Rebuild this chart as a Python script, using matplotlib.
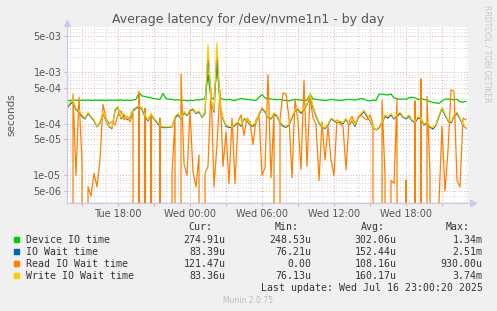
import numpy as np
import pandas as pd
import matplotlib
matplotlib.use("Agg")
import matplotlib.pyplot as plt
import matplotlib.dates as mdates
from matplotlib.ticker import LogLocator, FuncFormatter, NullFormatter
from matplotlib.patches import Rectangle

## Datos (microsegundos), una muestra cada 15 minutos
inicio = "2025-07-15 13:45"
n_muestras = 134

device_io = [280, 285, 290, 288, 283, 290, 287, 292, 285, 288, 290, 286,
             289, 284, 291, 287, 290, 288, 292, 286, 290, 285, 290, 300, 400,
             350, 340, 330, 320, 310, 305, 300, 390,
             310, 300, 300, 290, 295, 285, 290, 280, 288, 283, 295, 290, 300, 310,
             900, 320, 300, 1340, 320, 300,
             295, 300, 290, 285, 300, 310, 305, 300, 295, 290, 285, 330, 370,
             320, 310, 305, 300, 295, 300, 290, 285, 280, 290, 300, 295, 290,
             285, 290, 380, 305, 300, 295, 290, 285, 290, 300, 295, 290,
             285, 290, 295, 300, 295, 290, 300, 310, 305,
             285, 280, 290, 285, 375, 380, 370, 365, 380, 320, 310, 300, 305,
             300, 320, 330, 320, 300, 305, 300, 290, 270, 260, 255, 250, 280,
             300, 305, 300, 295, 300, 270, 265, 275]

io_wait = [200, 240, 270, 190, 170, 140, 125, 160, 135, 115, 88, 105,
           160, 115, 88, 82, 180, 210, 125, 150, 120, 135, 180, 200, 220,
           190, 140, 115, 150, 125, 105, 90, 85,
           85, 86, 88, 130, 150, 125, 165, 145, 180, 190, 160, 170, 135, 160,
           2300, 280, 170, 2510, 230, 125,
           90, 86, 85, 95, 105, 90, 125, 115, 95, 90, 105, 150, 200,
           170, 135, 125, 155, 140, 105, 90, 86, 95, 130, 180, 190, 160,
           190, 240, 350, 210, 140, 105, 86, 82, 95, 125, 115, 105,
           110, 100, 125, 95, 115, 90, 130, 150, 175,
           140, 115, 86, 76, 84, 105, 140, 130, 150, 125, 140, 160, 135,
           125, 140, 115, 105, 130, 125, 95, 105, 86, 80, 95, 140, 200,
           150, 115, 105, 140, 160, 125, 95, 83]

read_io = [120, 0, 380, 10, 330, 18, 0, 6, 4, 11, 6, 20,
           240, 130, 100, 110, 95, 150, 180, 120, 140, 110, 160, 0, 420,
           0, 200, 0, 150, 0, 0, 130, 0,
           0, 0, 11, 120, 0, 930, 17, 10, 180, 12, 6, 25, 0, 11,
           15, 500, 6, 40, 460, 15,
           70, 7, 130, 7, 110, 150, 60, 130, 110, 40, 120, 150, 10,
           14, 900, 9, 160, 0, 120, 400, 380, 130, 9, 300, 110, 13,
           700, 15, 350, 130, 100, 8, 110, 20, 90, 20, 10, 120,
           100, 90, 13, 110, 140, 100, 130, 150, 130,
           120, 150, 100, 0, 0, 290, 10, 0, 8, 7, 300, 0, 0,
           8, 0, 0, 280, 0, 750, 0, 340, 10, 0, 0, 3, 90,
           5, 30, 460, 430, 8, 6, 130, 121]

write_io = [210, 260, 290, 200, 180, 150, 130, 170, 140, 120, 90, 110,
            170, 120, 90, 85, 190, 220, 130, 160, 125, 140, 190, 210, 230,
            200, 150, 120, 160, 130, 110, 95, 88,
            88, 88, 90, 140, 160, 130, 175, 150, 190, 200, 165, 180, 140, 170,
            3400, 300, 180, 3740, 250, 130,
            95, 90, 88, 100, 110, 95, 130, 120, 100, 95, 110, 160, 210,
            180, 140, 130, 165, 150, 110, 95, 90, 100, 140, 190, 200, 170,
            200, 250, 380, 220, 150, 110, 90, 85, 100, 130, 120, 110,
            115, 105, 130, 100, 120, 95, 140, 160, 185,
            150, 120, 90, 76, 88, 110, 150, 140, 160, 130, 150, 170, 140,
            130, 150, 120, 110, 140, 130, 100, 110, 90, 85, 100, 150, 210,
            160, 120, 110, 150, 170, 130, 100, 83]

series = [
    ("Device IO time", device_io, "#00CC00", "274.91u", "248.53u", "302.06u", "1.34m"),
    ("IO Wait time", io_wait, "#0066B3", "83.39u", "76.21u", "152.44u", "2.51m"),
    ("Read IO Wait time", read_io, "#FF8000", "121.47u", "0.00", "108.16u", "930.00u"),
    ("Write IO Wait time", write_io, "#FFCC00", "83.36u", "76.13u", "160.17u", "3.74m"),
]

tiempo = pd.date_range(inicio, periods=n_muestras, freq="15min")

## Figura
W, H = 497, 311
fig = plt.figure(figsize=(W / 100, H / 100), dpi=100, facecolor="#F0F0F0")
ax = fig.add_axes([67 / W, 1 - 203 / H, 401 / W, 176 / H], facecolor="white")

for nombre, valores, color, *_ in series:
    ax.plot(tiempo, np.array(valores) * 1e-6, color=color, linewidth=0.9)

ax.set_yscale("log")
ax.set_ylim(2.92e-6, 7.6e-3)
ax.set_xlim(pd.Timestamp("2025-07-15 13:45"), pd.Timestamp("2025-07-16 23:10"))

## Ejes y rejilla
ax.yaxis.set_major_locator(LogLocator(base=10, subs=(1.0, 5.0)))
ax.yaxis.set_minor_locator(LogLocator(base=10, subs=(2.0, 3.0, 4.0, 6.0, 7.0, 8.0, 9.0)))
ax.yaxis.set_major_formatter(FuncFormatter(lambda v, p: f"{v:.0e}"))
ax.yaxis.set_minor_formatter(NullFormatter())

ax.xaxis.set_major_locator(mdates.HourLocator(byhour=range(0, 24, 3)))
ax.xaxis.set_minor_locator(mdates.HourLocator())
ax.xaxis.set_major_formatter(FuncFormatter(
    lambda v, p: mdates.num2date(v).strftime("%a %H:%M") if mdates.num2date(v).hour % 6 == 0 else ""))

ax.grid(which="major", color="#E8A8A8", linestyle=(0, (1, 2)), linewidth=0.7)
ax.grid(which="minor", color="#D0D0D0", linestyle=(0, (1, 2)), linewidth=0.7)
ax.set_axisbelow(True)

for s in ["top", "right"]:
    ax.spines[s].set_visible(False)
for s in ["left", "bottom"]:
    ax.spines[s].set_color("#C8C8F0")
    ax.spines[s].set_linewidth(0.8)
ax.plot([0], [1.025], marker="^", color="#C8C8F0", markersize=4, transform=ax.transAxes, clip_on=False)
ax.plot([1.012], [0], marker=">", color="#C8C8F0", markersize=4, transform=ax.transAxes, clip_on=False)

ax.tick_params(which="both", length=2, color="#E8A8A8", labelsize=7, labelcolor="#555555", pad=2)
ax.tick_params(which="minor", length=0)

## Textos
fig.text(11 / W, 1 - 115 / H, "seconds", rotation=90, ha="center", va="center",
         fontsize=7.5, color="#555555")
fig.text(0.5, 1 - 19 / H, "Average latency for /dev/nvme1n1 - by day",
         ha="center", va="center", fontsize=9, color="#555555")
fig.text(487 / W, 1 - 5 / H, "RRDTOOL / TOBI OETIKER", rotation=270,
         ha="center", va="top", fontsize=5.5, color="#C8C8C8")

## Leyenda
mono = dict(family="DejaVu Sans Mono", fontsize=7.1, color="#333333", va="center")
fila_y = [239.7, 251.7, 263.7, 275.7]
cab_y = 227.5
for x, txt in [(212.7, "Cur:"), (298.3, "Min:"), (384.7, "Avg:"), (470, "Max:")]:
    fig.text(x / W, 1 - cab_y / H, txt, ha="right", **mono)
for (nombre, _, color, cur, mn, avg, mx), y in zip(series, fila_y):
    fig.patches.append(Rectangle((14 / W, 1 - (y + 2.5) / H), 5 / W, 5 / H,
                                 transform=fig.transFigure, color=color))
    fig.text(26.3 / W, 1 - y / H, nombre, ha="left", **mono)
    for x, val in [(225.3, cur), (311, mn), (396.7, avg), (482.7, mx)]:
        fig.text(x / W, 1 - y / H, val, ha="right", **mono)
fig.text(482.7 / W, 1 - 287.7 / H, "Last update: Wed Jul 16 23:00:20 2025", ha="right", **mono)
fig.text(248 / W, 1 - 300.5 / H, "Munin 2.0.75", ha="center", va="center", fontsize=5.5, color="#BBBBBB")

fig.savefig("out.png", dpi=100, facecolor=fig.get_facecolor())
